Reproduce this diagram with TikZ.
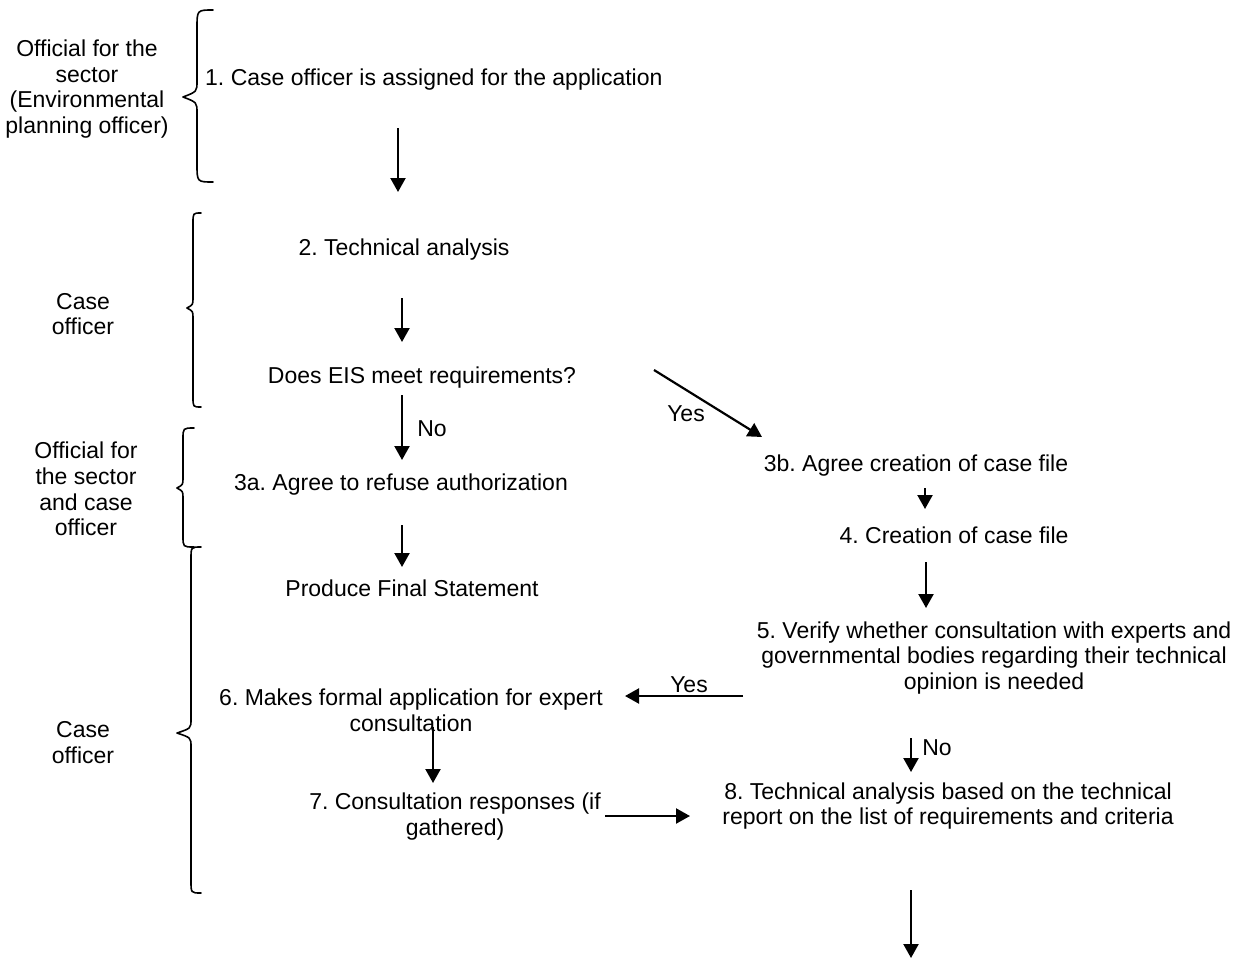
\documentclass[tikz,border=0pt]{standalone}
\usepackage{fontspec}
\setmainfont{Liberation Sans}
\usetikzlibrary{arrows.meta}
\newcommand{\fs}{\frenchspacing\fontsize{23}{25.8}\selectfont}
\tikzset{
  txt/.style={inner sep=0pt, align=center, font=\fs},
  one/.style={txt, text height=17pt, text depth=0pt},
  arr/.style={line width=2.2pt, -{Triangle[length=14pt,width=15pt]}},
  brc/.style={line width=1.6pt, line cap=round, line join=round}
}
\newcommand{\lbr}[8]{% xr xv xt ytop ytip ybot r q
  \draw[brc] (#1,#4) .. controls (#2,#4) .. (#2,#4+#7) -- (#2,#5-#8)
    .. controls (#2,#5-#8/3) .. (#3,#5) .. controls (#2,#5+#8/3) .. (#2,#5+#8)
    -- (#2,#6-#7) .. controls (#2,#6) .. (#1,#6);}
\begin{document}
\begin{tikzpicture}[x=1pt,y=-1pt]
\useasboundingbox (0,0) rectangle (1238,961);
% side labels
\node[txt] (L1) at (87,89) {Official for the\\sector\\(Environmental\\planning officer)};
\node[txt] (L2) at (83,314) {Case\\officer};
\node[txt] (L3) at (86,489) {Official for\\the sector\\and case\\officer};
\node[txt] (L4) at (83,742.5) {Case\\officer};
% braces
\lbr{213}{197}{183}{10}{97}{182}{18}{16}
\lbr{201}{193}{187}{213}{308}{407}{10}{10}
\lbr{194}{183}{177}{428}{488}{547}{11}{10}
\lbr{201}{191}{177}{547}{733}{893}{12}{14}
% steps
\node[one, anchor=west] (n1) at (205,77) {1. Case officer is assigned for the application};
\node[one] (n2) at (404,247) {2. Technical analysis};
\node[one] (n3) at (422,375) {Does EIS meet requirements?};
\node[one] (n3a) at (401,482) {3a. Agree to refuse authorization};
\node[one] (pfs) at (412,588) {Produce Final Statement};
\node[one] (n3b) at (916,463) {3b. Agree creation of case file};
\node[one] (n4) at (954,535) {4. Creation of case file};
\node[txt] (n5) at (994,658) {5. Verify whether consultation with experts and\\governmental bodies regarding their technical\\opinion is needed};
\node[txt] (n6) at (411,710) {6. Makes formal application for expert\\consultation};
\node[txt] (n7) at (455,816.5) {7. Consultation responses (if\\gathered)};
\node[txt] (n8) at (948,806) {8. Technical analysis based on the technical\\report on the list of requirements and criteria};
\coordinate (endpt) at (911,958);
% arrow labels
\node[one] (no1) at (432,428) {No};
\node[one] (yes1) at (686,413) {Yes};
\node[one] (yes2) at (689,684) {Yes};
\node[one] (no2) at (937,747) {No};
% connectors
\draw[arr] ([shift={(193,51)}]n1.west) -- ([shift={(-6,-55)}]n2.center);
\draw[arr] ([shift={(-2,51)}]n2.center) -- ([shift={(-20,-33)}]n3.center);
\draw[arr] ([shift={(-20,20)}]n3.center) -- ([shift={(1,-22)}]n3a.center);
\draw[arr] ([shift={(232,-5)}]n3.center) -- ([shift={(-154,-26)}]n3b.center);
\draw[arr] ([shift={(1,43)}]n3a.center) -- ([shift={(-10,-21)}]pfs.center);
\draw[arr] ([shift={(9,25)}]n3b.center) -- ([shift={(-29,-26)}]n4.center);
\draw[arr] ([shift={(-28,27)}]n4.center) -- ([shift={(-68,-50)}]n5.center);
\draw[arr] ([shift={(-251,38)}]n5.center) -- ([shift={(214,-14)}]n6.center);
\draw[arr] ([shift={(22,17)}]n6.center) -- ([shift={(-22,-33.5)}]n7.center);
\draw[arr] ([shift={(150,-0.5)}]n7.center) -- ([shift={(-258,10)}]n8.center);
\draw[arr] ([shift={(-83,80)}]n5.center) -- ([shift={(-37,-34)}]n8.center);
\draw[arr] ([shift={(-37,84)}]n8.center) -- (endpt);
\end{tikzpicture}
\end{document}
